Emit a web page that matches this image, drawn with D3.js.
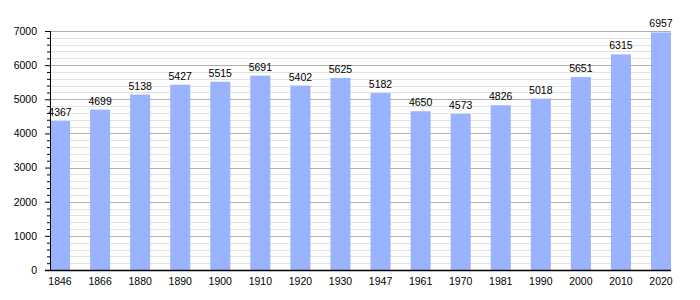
<!DOCTYPE html>
<html>
<head>
<meta charset="utf-8">
<script src="https://cdn.jsdelivr.net/npm/d3@7"></script>
<style>
  body { margin: 0; background: #fff; }
  svg { display: block; font-family: "Liberation Sans", Arial, sans-serif; }
</style>
</head>
<body>
<div id="wrapper"></div>
<script>
const years = ["1846", "1866", "1880", "1890", "1900", "1910", "1920", "1930",
  "1947", "1961", "1970", "1981", "1990", "2000", "2010", "2020"];
const population = [4367, 4699, 5138, 5427, 5515, 5691, 5402, 5625,
  5182, 4650, 4573, 4826, 5018, 5651, 6315, 6957];
const yMax = 7000;
const FONT = "Liberation Sans, Arial, sans-serif";

const dimensions = {
  width: 700,
  height: 300,
  margin: { top: 31, right: 29, bottom: 30, left: 50 }
};
dimensions.boundedWidth = dimensions.width - dimensions.margin.left - dimensions.margin.right;
dimensions.boundedHeight = dimensions.height - dimensions.margin.top - dimensions.margin.bottom;

const svg = d3.select("#wrapper").append("svg")
  .attr("width", dimensions.width)
  .attr("height", dimensions.height);

const bounds = svg.append("g")
  .attr("transform", `translate(${dimensions.margin.left},${dimensions.margin.top})`);

const xScale = d3.scaleBand()
  .domain(years)
  .range([0, dimensions.boundedWidth])
  .paddingInner(0.5)
  .paddingOuter(0);

const yScale = d3.scaleLinear()
  .domain([0, yMax])
  .range([dimensions.boundedHeight, 0]);

// minor grid every 200, major every 1000
const minorTicks = d3.range(0, yMax + 1, 200).filter(v => v % 1000 !== 0);
const majorTicks = d3.range(0, yMax + 1, 1000);

bounds.append("g").selectAll("line")
  .data(minorTicks)
  .join("line")
  .attr("x1", 0)
  .attr("x2", dimensions.boundedWidth)
  .attr("y1", d => Math.round(yScale(d)) + 0.5)
  .attr("y2", d => Math.round(yScale(d)) + 0.5)
  .attr("stroke", "#e2e2e2");

bounds.append("g").selectAll("line")
  .data(majorTicks.filter(d => d > 0))
  .join("line")
  .attr("x1", 0)
  .attr("x2", dimensions.boundedWidth)
  .attr("y1", d => Math.round(yScale(d)) + 0.5)
  .attr("y2", d => Math.round(yScale(d)) + 0.5)
  .attr("stroke", "#b0b0b0");

// bars
bounds.append("g").selectAll("rect")
  .data(population)
  .join("rect")
  .attr("x", (d, i) => xScale(years[i]))
  .attr("y", d => yScale(d))
  .attr("width", xScale.bandwidth())
  .attr("height", d => dimensions.boundedHeight - yScale(d))
  .attr("fill", "#99b3ff");

// value labels
bounds.append("g").selectAll("text")
  .data(population)
  .join("text")
  .attr("x", (d, i) => xScale(years[i]) + xScale.bandwidth() / 2)
  .attr("y", d => yScale(d) - 5)
  .attr("text-anchor", "middle")
  .style("font-size", "10.5px")
  .attr("fill", "#000")
  .text(d => d);

// y axis with minor ticks
const yAxis = bounds.append("g");
yAxis.call(d3.axisLeft(yScale).tickValues(minorTicks).tickSize(3).tickFormat(""))
  .call(g => g.select(".domain").remove());
yAxis.append("g")
  .call(d3.axisLeft(yScale).tickValues(majorTicks).tickSize(5).tickPadding(8).tickFormat(d3.format("d")))
  .call(g => g.selectAll("text").style("font-size", "10.5px").attr("fill", "#000")
    .attr("font-family", FONT));
yAxis.selectAll("line").attr("stroke", "#000");
yAxis.selectAll(".domain").attr("stroke", "#000").attr("d", `M0.5,0V${dimensions.boundedHeight}`);

// x axis
const xAxis = bounds.append("g")
  .attr("transform", `translate(0,${dimensions.boundedHeight})`)
  .call(d3.axisBottom(xScale).tickSize(0).tickPadding(8));
xAxis.select(".domain")
  .attr("stroke", "#000")
  .attr("stroke-width", 1.5)
  .attr("d", `M-5,0.5H${dimensions.boundedWidth}`);
xAxis.selectAll("text")
  .style("font-size", "10.5px")
  .attr("fill", "#000")
  .attr("font-family", FONT);
</script>
</body>
</html>
